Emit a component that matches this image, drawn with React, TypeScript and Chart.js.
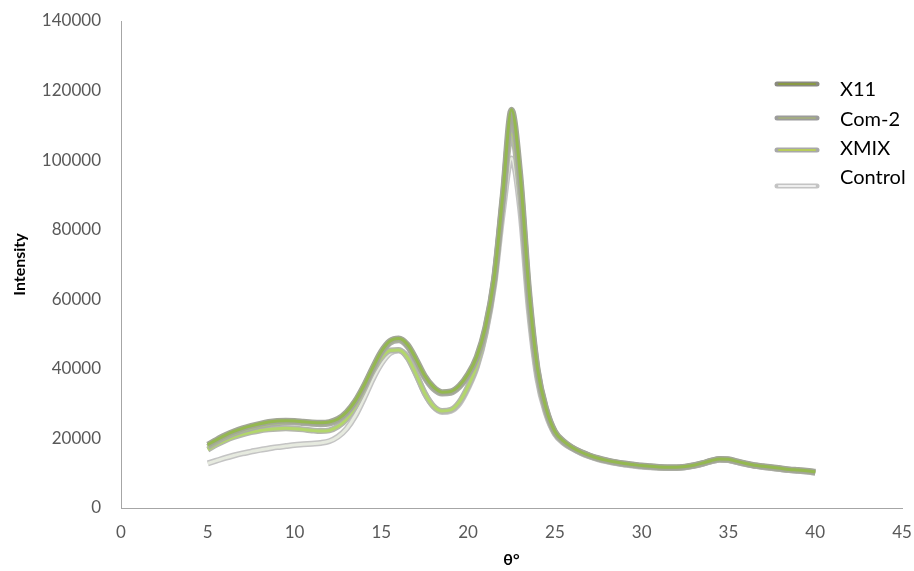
import React, { useEffect, useRef } from "react";
import { Chart, registerables } from "chart.js";

Chart.register(...registerables);

const thetaValues = [
  5, 5.5, 6, 6.5, 7, 7.5, 8, 8.5, 9, 9.5,
  10, 10.5, 11, 11.5, 12, 12.5, 13, 13.5, 14, 14.5,
  15, 15.5, 16, 16.5, 17, 17.5, 18, 18.5, 19, 19.5,
  20, 20.5, 21, 21.5, 22, 22.5, 23, 23.5, 24, 24.5,
  25, 25.5, 26, 26.5, 27, 27.5, 28, 28.5, 29, 29.5,
  30, 30.5, 31, 31.5, 32, 32.5, 33, 33.5, 34, 34.5,
  35, 35.5, 36, 36.5, 37, 37.5, 38, 38.5, 39, 39.5,
  40,
];

const x11Values = [
  18200, 19600, 20900, 22000, 22900, 23600, 24200, 24700, 25000, 25100,
  25000, 24800, 24600, 24500, 24700, 25600, 27600, 30800, 35200, 40300,
  45000, 48000, 48700, 47000, 42800, 38000, 34800, 33300, 33500, 35200,
  38500, 43500, 52000, 66000, 90000, 114500, 96000, 63000, 40000, 28500,
  22000, 19200, 17400, 16100, 15100, 14300, 13700, 13200, 12800, 12500,
  12200, 12000, 11800, 11700, 11700, 11900, 12300, 12900, 13600, 14100,
  14000, 13400, 12800, 12300, 12000, 11700, 11400, 11100, 10900, 10700,
  10400,
];

const com2Values = [
  17600, 19000, 20300, 21400, 22300, 23000, 23600, 24100, 24400, 24600,
  24600, 24400, 24200, 24100, 24300, 25200, 27200, 30400, 34800, 39900,
  44500, 47500, 48200, 46500, 42300, 37500, 34300, 32900, 33100, 34800,
  38000, 43000, 51500, 65500, 89000, 112000, 94000, 61500, 39500, 28200,
  21800, 19000, 17300, 16000, 15000, 14200, 13600, 13100, 12700, 12400,
  12100, 11900, 11700, 11600, 11600, 11800, 12200, 12800, 13500, 14000,
  13900, 13300, 12700, 12200, 11900, 11600, 11300, 11000, 10800, 10600,
  10300,
];

const xmixValues = [
  16800, 18200, 19400, 20400, 21200, 21800, 22300, 22600, 22800, 22900,
  22800, 22600, 22300, 22100, 22300, 23400, 25600, 29200, 34000, 39200,
  43200, 45300, 45400, 43300, 38500, 33000, 29300, 27900, 28200, 30500,
  35000, 41000, 50500, 65000, 88000, 107500, 90000, 59000, 38000, 27500,
  21500, 18800, 17200, 15900, 14900, 14100, 13500, 13000, 12600, 12300,
  12000, 11800, 11600, 11500, 11500, 11700, 12100, 12700, 13400, 13900,
  13800, 13200, 12600, 12100, 11800, 11500, 11200, 10900, 10700, 10500,
  10200,
];

const controlValues = [
  12800, 13600, 14400, 15100, 15700, 16200, 16700, 17100, 17500, 17800,
  18100, 18300, 18500, 18700, 19200, 20500, 22800, 26500, 31500, 37000,
  41500, 44500, 45300, 43500, 38600, 33000, 29200, 27600, 27900, 30000,
  34500, 40500, 50000, 64000, 85000, 100500, 86000, 57000, 37000, 27000,
  21300, 18700, 17100, 15800, 14800, 14000, 13400, 12900, 12500, 12200,
  11900, 11700, 11600, 11500, 11500, 11700, 12100, 12700, 13400, 13900,
  13800, 13200, 12600, 12100, 11800, 11500, 11200, 10900, 10700, 10500,
  10200,
];

const seriesNames = ["X11", "Com-2", "XMIX", "Control"];
const seriesValues = [x11Values, com2Values, xmixValues, controlValues];
const innerColors = ["#94b850", "#abc87c", "#b2d66c", "#e6eadf"];
const outlineColors = ["#a2a696", "#aaaca4", "#b4b7ac", "#c4c4c4"];
const legendInner = ["#8a9a44", "#a4ac84", "#b8cc5c", "#eeeeee"];
const legendOutline = ["#8a8a80", "#9c9c9c", "#a8a8a8", "#c4c4c4"];

const xTickMin = 0;
const xTickMax = 45;
const xTickStep = 5;
const yTickMin = 0;
const yTickMax = 140000;
const yTickStep = 20000;

const FONT = "Lato, 'Liberation Sans', sans-serif";

const legendPlugin = {
  id: "customLegend",
  afterDraw(chart: any) {
    const ctx = chart.ctx as CanvasRenderingContext2D;
    ctx.save();
    const lineYs = [84, 118, 150, 186];
    const textYs = [90, 120, 149, 178];
    seriesNames.forEach((name, i) => {
      const y = lineYs[i];
      ctx.lineCap = "round";
      ctx.beginPath();
      ctx.moveTo(777, y);
      ctx.lineTo(817, y);
      ctx.strokeStyle = legendOutline[i];
      ctx.lineWidth = 5;
      ctx.stroke();
      ctx.beginPath();
      ctx.moveTo(779, y);
      ctx.lineTo(815, y);
      ctx.strokeStyle = legendInner[i];
      ctx.lineWidth = 2.2;
      ctx.stroke();
      ctx.fillStyle = "#000000";
      ctx.font = `20px ${FONT}`;
      ctx.textAlign = "left";
      ctx.textBaseline = "middle";
      ctx.fillText(name, 840, textYs[i]);
    });
    ctx.restore();
  },
};

export default function App() {
  const canvasRef = useRef<HTMLCanvasElement | null>(null);

  useEffect(() => {
    if (!canvasRef.current) return;
    const datasets: any[] = [];
    seriesNames.forEach((name, i) => {
      const pts = thetaValues.map((x, j) => ({ x, y: seriesValues[i][j] }));
      datasets.push({
        label: name,
        data: pts,
        borderColor: innerColors[i],
        borderWidth: 3,
        pointRadius: 0,
        cubicInterpolationMode: "monotone",
        fill: false,
      });
      datasets.push({
        label: name + " outline",
        data: pts,
        borderColor: outlineColors[i],
        borderWidth: 6,
        pointRadius: 0,
        cubicInterpolationMode: "monotone",
        fill: false,
      });
    });

    const chart = new Chart(canvasRef.current, {
      type: "line",
      data: { datasets },
      options: {
        animation: false,
        responsive: true,
        maintainAspectRatio: false,
        layout: { padding: { top: 21, right: 12, left: 0, bottom: 0 } },
        plugins: {
          legend: { display: false },
          tooltip: { enabled: false },
        },
        scales: {
          x: {
            type: "linear",
            min: xTickMin,
            max: xTickMax,
            grid: { display: false, drawTicks: false },
            border: { display: true, color: "#a6a6a6", width: 1 },
            ticks: {
              stepSize: xTickStep,
              padding: 14,
              color: "#595959",
              font: { family: FONT, size: 17 },
              callback: (v: any) => String(v),
            },
            title: {
              display: true,
              text: "θ°",
              color: "#000000",
              font: { family: FONT, size: 16, weight: "bold" },
              padding: { top: 0, bottom: 2 },
            },
            afterFit(scale: any) {
              scale.height = 63;
              scale.paddingLeft = 0;
              scale.paddingRight = 0;
            },
          },
          y: {
            type: "linear",
            min: yTickMin,
            max: yTickMax,
            grid: { display: false, drawTicks: false },
            border: { display: true, color: "#a6a6a6", width: 1 },
            ticks: {
              stepSize: yTickStep,
              padding: 20,
              color: "#595959",
              font: { family: FONT, size: 17 },
              callback: (v: any) => String(v),
            },
            title: {
              display: true,
              text: "Intensity",
              color: "#000000",
              font: { family: FONT, size: 16, weight: "bold" },
              padding: { top: 10, bottom: 0 },
            },
            afterFit(scale: any) {
              scale.width = 121;
              scale.paddingTop = 0;
              scale.paddingBottom = 0;
            },
          },
        },
      },
      plugins: [legendPlugin],
    });
    return () => chart.destroy();
  }, []);

  return (
    <div style={{ position: "absolute", left: 0, top: 0, width: 914, height: 571, background: "#ffffff" }}>
      <canvas ref={canvasRef} />
    </div>
  );
}
